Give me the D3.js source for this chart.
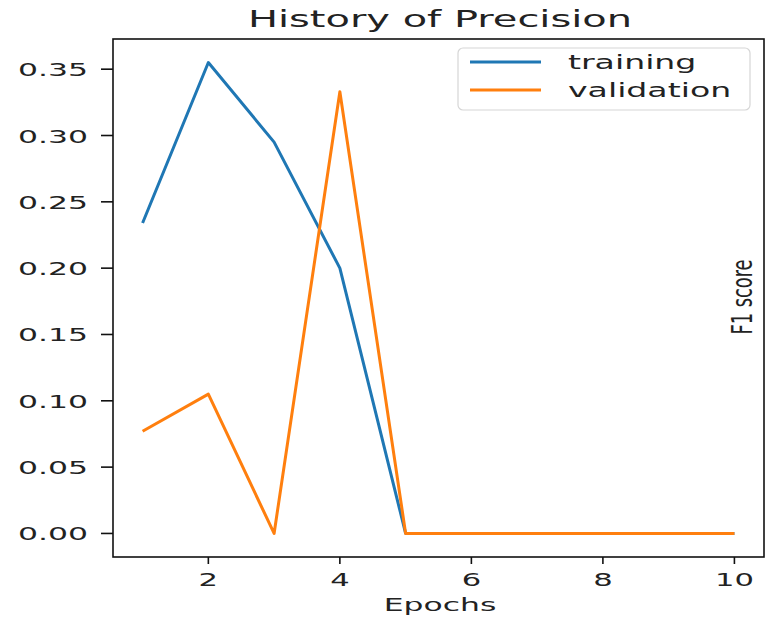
<!DOCTYPE html>
<html>
<head>
<meta charset="utf-8">
<script src="https://cdnjs.cloudflare.com/ajax/libs/d3/7.8.5/d3.min.js"></script>
<style>
  body { margin: 0; background: #fff; }
  text { font-family: "DejaVu Sans", sans-serif; fill: #222; }
</style>
</head>
<body>
<div id="chart"></div>
<script>
// data
var epochs = [1, 2, 3, 4, 5, 6, 7, 8, 9, 10];
var training = [0.234, 0.355, 0.295, 0.200, 0, 0, 0, 0, 0, 0];
var validation = [0.077, 0.105, 0, 0.333, 0, 0, 0, 0, 0, 0];
var xTicks = [2, 4, 6, 8, 10];
var yTicks = [0, 0.05, 0.10, 0.15, 0.20, 0.25, 0.30, 0.35];
var seriesNames = ["training", "validation"];
var colors = ["#1f77b4", "#ff7f0e"];

// picture is stretched sideways, so text gets stretched too
var SX = 1.7;

var width = 769, height = 618;
// plot box (window.top is reserved, so use other names)
var plotL = 113, plotR = 764, plotT = 39, plotB = 557;

var svg = d3.select("#chart").append("svg")
  .attr("width", width)
  .attr("height", height);

var x = d3.scaleLinear().domain([0.55, 10.45]).range([plotL, plotR]);
var y = d3.scaleLinear().domain([-0.01775, 0.37275]).range([plotB, plotT]);

function label (px, py, str, anchor, size) {
  return svg.append("text")
    .attr("transform", "translate(" + px + "," + py + ") scale(" + SX + ",1)")
    .attr("text-anchor", anchor)
    .attr("font-size", size + "px")
    .text(str);
}

// lines
var line = d3.line()
  .x(function (d, i) { return x(epochs[i]); })
  .y(function (d) { return y(d); });

[training, validation].forEach(function (vals, k) {
  svg.append("path")
    .datum(vals)
    .attr("d", line)
    .attr("fill", "none")
    .attr("stroke", colors[k])
    .attr("stroke-width", 3)
    .attr("stroke-linejoin", "round");
});

// frame
svg.append("rect")
  .attr("x", plotL)
  .attr("y", plotT)
  .attr("width", plotR - plotL)
  .attr("height", plotB - plotT)
  .attr("fill", "none")
  .attr("stroke", "#111")
  .attr("stroke-width", 1.6);

// x ticks
xTicks.forEach(function (t) {
  svg.append("line")
    .attr("x1", x(t)).attr("x2", x(t))
    .attr("y1", plotB).attr("y2", plotB + 7)
    .attr("stroke", "#111").attr("stroke-width", 1.6);
  label(x(t), plotB + 29, String(t), "middle", 18);
});

// y ticks
yTicks.forEach(function (t) {
  svg.append("line")
    .attr("x1", plotL - 12).attr("x2", plotL)
    .attr("y1", y(t)).attr("y2", y(t))
    .attr("stroke", "#111").attr("stroke-width", 1.6);
  label(plotL - 25, y(t) + 7, d3.format(".2f")(t), "end", 18.5);
});

// title and axis labels
label(440, 27, "History of Precision", "middle", 23.5);
label(440, 611, "Epochs", "middle", 18.5);

svg.append("text")
  .attr("transform", "translate(752,297) scale(1.4,1) rotate(-90)")
  .attr("text-anchor", "middle")
  .attr("font-family", "'Liberation Sans Narrow', 'DejaVu Sans Condensed', sans-serif")
  .attr("font-size", "20px")
  .attr("textLength", 75)
  .attr("lengthAdjust", "spacingAndGlyphs")
  .text("F1 score");

// legend
svg.append("rect")
  .attr("x", 458).attr("y", 48)
  .attr("width", 292).attr("height", 62)
  .attr("rx", 5)
  .attr("fill", "#fff")
  .attr("fill-opacity", 0.8)
  .attr("stroke", "#d6d6d6")
  .attr("stroke-width", 1.2);

seriesNames.forEach(function (name, i) {
  var ly = 62 + 28 * i;
  svg.append("line")
    .attr("x1", 470).attr("x2", 541)
    .attr("y1", ly).attr("y2", ly)
    .attr("stroke", colors[i]).attr("stroke-width", 3);
  label(568, ly + 7, name, "start", 19.5);
});
</script>
</body>
</html>
